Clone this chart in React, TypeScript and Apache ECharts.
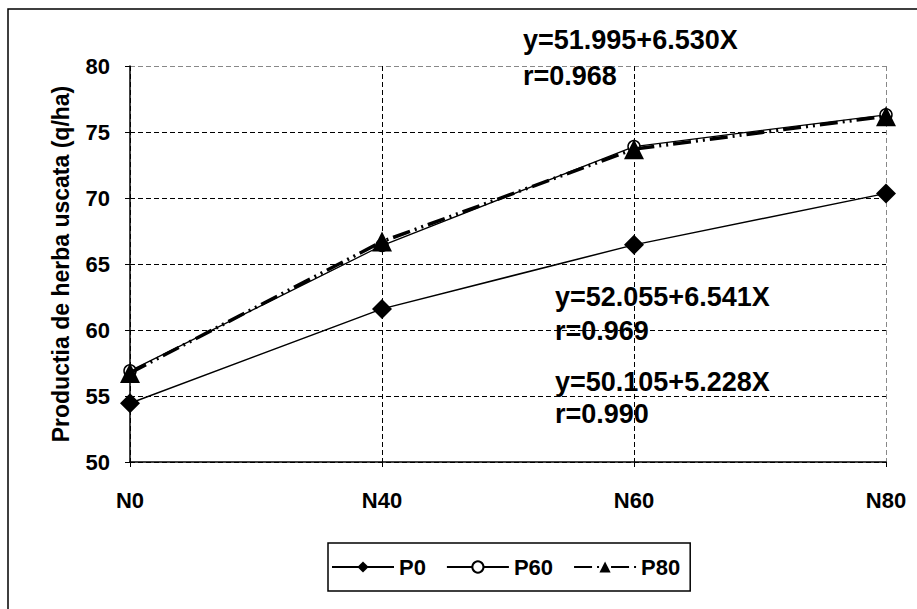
import React, { useEffect, useRef } from "react";
import * as echarts from "echarts";

const categories = ["N0", "N40", "N60", "N80"];
const p0 = [54.45, 61.6, 66.45, 70.35];
const p60 = [56.9, 66.4, 73.9, 76.3];
const p80 = [56.75, 66.7, 73.7, 76.2];
const yTicks = { min: 50, max: 80, interval: 5 };
const annotations = [
  { text: "y=51.995+6.530X", x: 523, y: 26 },
  { text: "r=0.968", x: 523, y: 62 },
  { text: "y=52.055+6.541X", x: 555, y: 283 },
  { text: "r=0.969", x: 555, y: 317 },
  { text: "y=50.105+5.228X", x: 555, y: 368 },
  { text: "r=0.990", x: 555, y: 400 },
];

const FONT = "'Liberation Sans', Arial, sans-serif";

export default function App() {
  const ref = useRef<HTMLDivElement>(null);
  useEffect(() => {
    if (!ref.current) return;
    const chart = echarts.init(ref.current, undefined, { renderer: "svg" });
    chart.setOption({
      animation: false,
      backgroundColor: "#fff",
      textStyle: { fontFamily: FONT },
      grid: { left: 130, right: 31, top: 66, bottom: 147 },
      legend: {
        left: 328,
        top: 543,
        borderColor: "#000",
        borderWidth: 1.5,
        padding: [13, 10, 13, 3],
        itemGap: 20,
        itemWidth: 62,
        itemHeight: 14,
        textStyle: { fontFamily: FONT, fontWeight: "bold", fontSize: 22, color: "#000" },
        data: ["P0", "P60", "P80"],
      },
      xAxis: {
        type: "category",
        data: categories,
        boundaryGap: false,
        axisLine: { lineStyle: { color: "#000", width: 1.5 } },
        axisTick: { show: true, length: 5, lineStyle: { color: "#000" } },
        axisLabel: { color: "#000", fontSize: 22, fontWeight: "bold", fontFamily: FONT, margin: 27 },
        splitLine: {
          show: true,
          lineStyle: { color: ["#000", "#000", "#000", "#888"], type: [5, 3], width: 1 },
        },
      },
      yAxis: {
        type: "value",
        min: yTicks.min,
        max: yTicks.max,
        interval: yTicks.interval,
        name: "Productia de herba uscata (q/ha)",
        nameLocation: "middle",
        nameRotate: 90,
        nameGap: 58,
        nameTextStyle: { color: "#000", fontSize: 23, fontWeight: "bold", fontFamily: FONT },
        axisLine: { show: true, lineStyle: { color: "#000", width: 1.5 } },
        axisTick: { show: true, length: 5, lineStyle: { color: "#000" } },
        axisLabel: { color: "#000", fontSize: 22, fontWeight: "bold", fontFamily: FONT, margin: 20 },
        splitLine: {
          show: true,
          lineStyle: {
            color: ["#000", "#000", "#000", "#000", "#000", "#000", "#888"],
            type: [5, 3],
            width: 1,
          },
        },
      },
      series: [
        {
          name: "P0",
          type: "line",
          data: p0,
          symbol: "diamond",
          symbolSize: 20,
          itemStyle: { color: "#000" },
          lineStyle: { color: "#000", width: 1.5 },
          z: 3,
        },
        {
          name: "P60",
          type: "line",
          data: p60,
          symbol: "circle",
          symbolSize: 12,
          itemStyle: { color: "#fff", borderColor: "#000", borderWidth: 1.5 },
          lineStyle: { color: "#000", width: 1.3 },
          z: 4,
        },
        {
          name: "P80",
          type: "line",
          data: p80,
          symbol: "triangle",
          symbolSize: 20,
          itemStyle: { color: "#000" },
          lineStyle: { color: "#000", width: 3.5, type: [18, 5, 2, 5, 2, 5] },
          z: 5,
        },
      ],
      graphic: [
        {
          type: "rect",
          shape: { x: 8, y: 9, width: 940, height: 640 },
          style: { fill: "none", stroke: "#000", lineWidth: 1.5 },
          silent: true,
          z: -1,
        },
        ...annotations.map((a) => ({
          type: "text",
          x: a.x,
          y: a.y,
          style: {
            text: a.text,
            fill: "#000",
            font: `bold 27px ${FONT}`,
          },
          z: 10,
        })),
      ],
    });
    return () => chart.dispose();
  }, []);
  return <div ref={ref} style={{ width: 917, height: 609, position: "absolute", left: 0, top: 0 }} />;
}
